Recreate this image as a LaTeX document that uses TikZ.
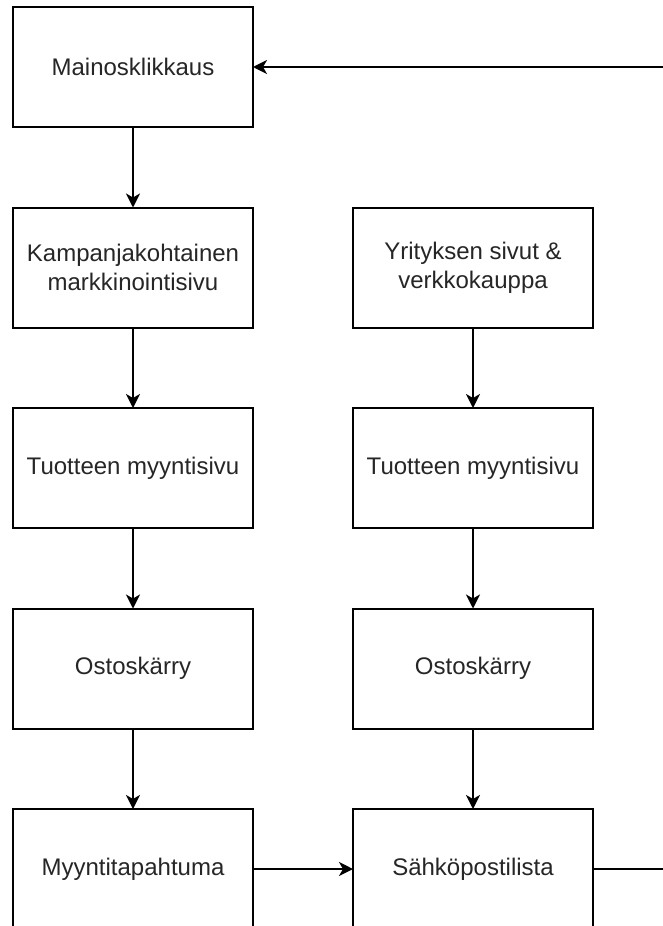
\documentclass[tikz,border=0pt]{standalone}
\usepackage{fontspec}
\setmainfont{Liberation Sans}
\usetikzlibrary{arrows.meta, positioning}

\begin{document}
\begin{tikzpicture}[
    x=1pt, y=1pt,
    box/.style={draw, line width=2pt, outer sep=0pt, inner sep=0pt, minimum width=240pt, minimum height=120pt, align=center, font=\fontsize{24}{29}\selectfont, text=black!85},
    arr/.style={-{Stealth[length=14pt, width=14pt, inset=4pt]}, line width=2pt},
    node distance=80.5pt and 100pt
]
    \path[use as bounding box, clip] (0,0) rectangle (663,-926);
    \fill[white] (0,0) rectangle (663,-926);

    \node[box] (mainos) at (133,-67) {Mainosklikkaus};
    \node[box, below=of mainos] (kampanja) {Kampanjakohtainen\\markkinointisivu};
    \node[box, below=of kampanja] (tuote1) {Tuotteen myyntisivu};
    \node[box, below=of tuote1] (ostos1) {Ostoskärry};
    \node[box, below=of ostos1] (myynti) {Myyntitapahtuma};

    \node[box, right=of kampanja] (yritys) {Yrityksen sivut \&\\verkkokauppa};
    \node[box, below=of yritys] (tuote2) {Tuotteen myyntisivu};
    \node[box, below=of tuote2] (ostos2) {Ostoskärry};
    \node[box, below=of ostos2] (sahko) {Sähköpostilista};

    \coordinate (paluu) at (700,-67);

    \draw[arr] (mainos) -- (kampanja);
    \draw[arr] (kampanja) -- (tuote1);
    \draw[arr] (tuote1) -- (ostos1);
    \draw[arr] (ostos1) -- (myynti);
    \draw[arr] (yritys) -- (tuote2);
    \draw[arr] (tuote2) -- (ostos2);
    \draw[arr] (ostos2) -- (sahko);
    \draw[arr] (myynti) -- (sahko);
    \draw[arr] (sahko.east) -| (paluu) -- (mainos.east);
\end{tikzpicture}
\end{document}
